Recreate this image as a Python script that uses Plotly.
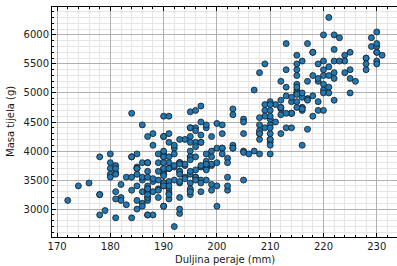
import plotly.graph_objects as go

# Palmer penguins: flipper length (mm) and body mass (g)
adelie_flipper = [181,186,195,193,190,181,195,193,190,186,180,182,191,198,185,195,197,184,194,
                  174,180,189,185,180,187,183,187,172,180,
                  178,178,188,184,195,196,190,180,181,184,182,195,186,196,185,190,182,179,190,191,
                  186,188,190,200,187,191,186,193,181,194,185,195,185,192,184,192,195,188,
                  190,198,190,190,196,197,190,195,191,184,187,195,189,196,187,193,191,194,
                  190,189,189,190,202,205,185,186,187,208,190,196,178,192,
                  192,203,183,190,193,184,199,190,181,197,198,191,193,197,191,196,188,199,189,189,
                  187,198,176,202,186,199,191,191,190,205,202,205,197,200,199,195,191,205,187,199,
                  190,191,200,185,193,193,187,188,190,192,185,190]
adelie_mass = [3750,3800,3250,3450,3650,3625,4675,3475,4250,3300,3700,3200,3800,4400,3700,3450,4500,3325,4200,
               3400,3600,3800,3950,3800,3800,3550,3200,3150,3950,
               3250,3900,3300,3900,3325,4150,3950,3550,3300,4650,3150,3900,3100,4400,3000,4600,3425,2975,3450,4150,
               3500,4300,3450,4050,2900,3700,3550,3800,2850,3750,3150,4400,3600,4050,2850,3950,3350,4100,
               3050,4450,3600,3900,3550,4150,3700,4250,3700,3900,3550,4000,3200,4700,3800,4200,3350,3550,
               3800,3500,3950,3600,3550,4300,3400,4450,3300,4300,3700,4350,2900,4100,
               3725,4725,3075,4250,2925,3550,3750,3900,3175,4775,3825,4600,3200,4275,3900,4075,2900,3775,3350,3325,
               3150,3500,3450,3875,3050,4000,3275,4300,3050,4000,3325,3500,3500,4475,3425,3900,3175,3975,3400,4250,
               3400,3475,3050,3725,3000,3650,4250,3475,3450,3750,3700,4000]

gentoo_flipper = [211,230,210,218,215,210,211,219,209,215,214,216,214,213,210,217,210,221,209,222,
                  218,215,213,215,215,215,216,215,210,220,222,209,207,230,220,220,213,219,208,208,
                  208,225,210,216,222,217,210,225,213,215,210,220,210,225,217,220,208,220,208,224,
                  208,221,214,231,219,230,214,229,220,223,216,221,221,217,216,230,209,220,215,223,
                  212,221,212,224,212,228,218,218,212,230,218,228,212,224,214,226,216,222,203,225,
                  219,228,215,228,216,215,210,219,208,209,216,229,213,230,217,230,217,222,214,215,
                  222,212,213]
gentoo_mass = [4500,5700,4450,5700,5400,4550,4800,5200,4400,5150,4650,5550,4650,5850,4200,5850,4150,6300,4800,5350,
               5700,5000,4400,5050,5000,5100,4100,5650,4600,5550,5250,4700,5050,6050,5150,5400,4950,5250,4350,5350,
               3950,5700,4300,4750,5550,4900,4200,5400,5100,5300,4850,5300,4400,5000,4900,5050,4300,5000,4450,5550,
               4200,5300,4400,5650,4700,5700,4650,5800,4700,5550,4750,5000,5100,5200,4700,5800,4600,6000,4750,5950,
               4625,5450,4725,5350,4750,5600,4600,5300,4875,5550,4950,5400,4750,5650,4850,5200,4925,4875,4625,5250,
               4850,5600,4975,5500,4725,5500,4700,5500,4575,5500,5000,5950,4650,5500,4375,5850,4875,6000,4925,4850,
               5750,5200,5400]

chinstrap_flipper = [192,196,193,188,197,198,178,197,195,198,193,194,185,201,190,201,197,181,190,195,
                     181,191,187,193,195,197,200,200,191,205,187,201,187,203,195,199,195,210,192,205,
                     210,187,196,196,196,201,190,212,187,198,199,201,193,203,187,197,191,203,202,194,
                     206,189,195,207,202,193,210,198]
chinstrap_mass = [3500,3900,3650,3525,3725,3950,3250,3750,4150,3700,3800,3775,3700,4050,3575,4050,3300,3700,3450,4400,
                  3600,3400,2900,3800,3300,4150,3400,3800,3700,4550,3200,4300,3350,4100,3600,3900,3850,4800,2700,4500,
                  3950,3650,3550,3500,3675,4450,3400,4300,3250,3675,3325,3950,3600,4050,3350,3450,3250,4050,3800,3525,
                  3950,3650,3650,4000,3400,3775,4100,3775]

flipper = adelie_flipper + gentoo_flipper + chinstrap_flipper
mass = adelie_mass + gentoo_mass + chinstrap_mass

x_title = "Duljina peraje (mm)"
y_title = "Masa tijela (g)"
x_ticks = [170, 180, 190, 200, 210, 220, 230]
y_ticks = [3000, 3500, 4000, 4500, 5000, 5500, 6000]

fig = go.Figure(go.Scatter(
    x=flipper, y=mass, mode="markers",
    marker=dict(size=6, color="#1f77b4", line=dict(color="#1a1a1a", width=0.8)),
    showlegend=False,
))

font = dict(family="DejaVu Sans", size=10, color="#1a1a1a")
common = dict(
    showline=True, linecolor="black", linewidth=1,
    ticks="inside", ticklen=4, tickwidth=1, tickcolor="black",
    showgrid=True, gridcolor="#b0b0b0", gridwidth=1,
    zeroline=False, tickfont=font, automargin=False,
)
fig.update_xaxes(
    **common, range=[169.05, 233.8], tickvals=x_ticks, mirror="allticks",
    minor=dict(dtick=2, ticks="inside", ticklen=2, tickcolor="black", showgrid=True,
               gridcolor="#e6e6e6", gridwidth=0.6),
)
fig.update_yaxes(
    **common, range=[2520, 6480], tickvals=y_ticks,
    minor=dict(dtick=100, ticks="inside", ticklen=2, tickcolor="black", showgrid=True,
               gridcolor="#e6e6e6", gridwidth=0.6),
)
fig.update_layout(
    width=397, height=266,
    margin=dict(l=52, r=0, t=7, b=29),
    plot_bgcolor="white", paper_bgcolor="white",
    font=font,
    annotations=[
        dict(text=x_title, xref="paper", yref="paper", x=0.5, y=0, yshift=-22,
             xanchor="center", yanchor="middle", showarrow=False, font=font),
        dict(text=y_title, xref="paper", yref="paper", x=0, y=0.5, xshift=-42,
             xanchor="center", yanchor="middle", textangle=-90, showarrow=False, font=font),
    ],
)
fig.write_html("out.html", config={"displayModeBar": False},
               post_script="document.body.style.margin='0px';document.body.style.overflow='hidden';")
